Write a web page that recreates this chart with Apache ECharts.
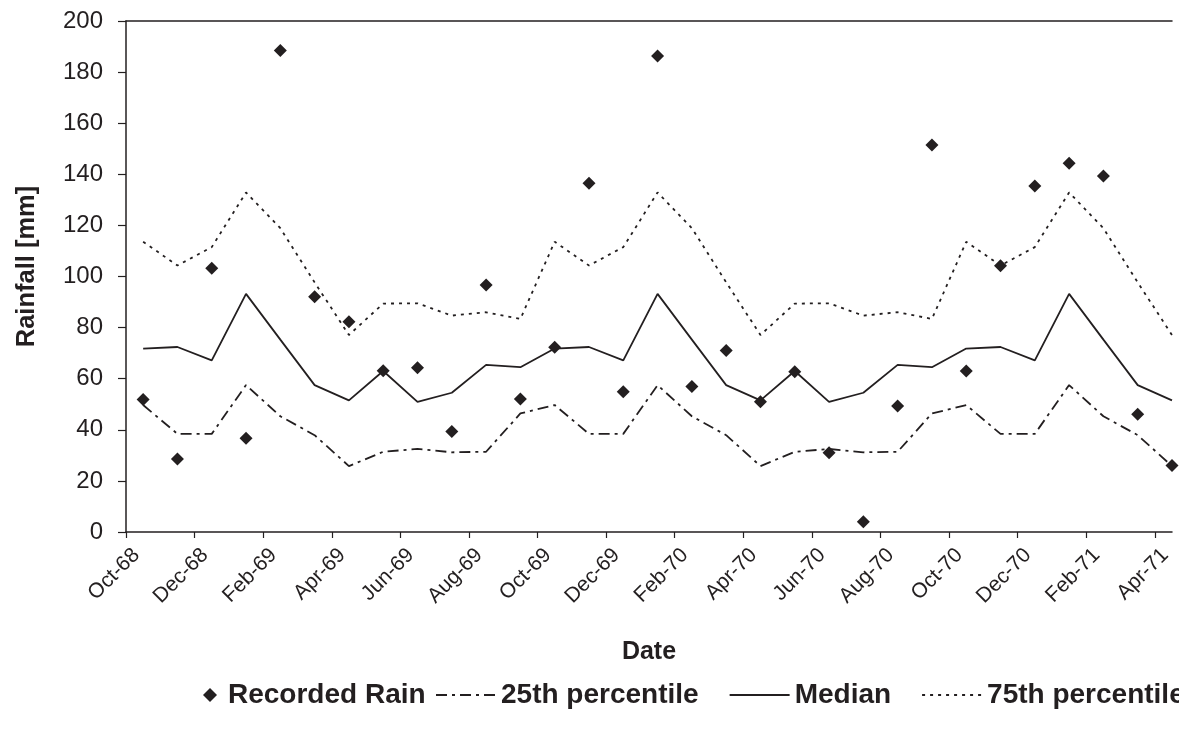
<!DOCTYPE html>
<html>
<head>
<meta charset="utf-8">
<title>Rainfall</title>
<script src="https://cdn.jsdelivr.net/npm/echarts@6/dist/echarts.min.js"></script>
<style>
  html, body { margin: 0; padding: 0; background: #ffffff; }
  #chart { width: 1179px; height: 736px; }
</style>
</head>
<body>
<div id="chart"></div>
<script>
// Monthly categories, Oct-68 .. Apr-71
const months = [
  'Oct-68','Nov-68','Dec-68','Jan-69','Feb-69','Mar-69','Apr-69','May-69','Jun-69','Jul-69','Aug-69','Sep-69',
  'Oct-69','Nov-69','Dec-69','Jan-70','Feb-70','Mar-70','Apr-70','May-70','Jun-70','Jul-70','Aug-70','Sep-70',
  'Oct-70','Nov-70','Dec-70','Jan-71','Feb-71','Mar-71','Apr-71'
];

// Recorded monthly rainfall [mm]
const recordedRain = [
  51.9, 28.6, 103.2, 36.7, 188.5, 92.1, 82.3, 63.1, 64.3, 39.3, 96.7, 52.1,
  72.3, 136.5, 54.9, 186.3, 56.9, 71.0, 51.0, 62.7, 31.0, 4.0, 49.3, 151.5,
  63.0, 104.2, 135.4, 144.3, 139.3, 46.1, 26.0
];

// Long-term monthly statistics [mm]
const p25 = [
  49.7, 38.4, 38.4, 57.5, 45.3, 37.9, 25.8, 31.4, 32.5, 31.2, 31.4, 46.4,
  49.7, 38.4, 38.4, 57.5, 45.3, 37.9, 25.8, 31.4, 32.5, 31.2, 31.4, 46.4,
  49.7, 38.4, 38.4, 57.5, 45.3, 37.9, 25.8
];
const median = [
  71.8, 72.4, 67.2, 93.2, 75.3, 57.5, 51.5, 63.0, 50.9, 54.5, 65.4, 64.5,
  71.8, 72.4, 67.2, 93.2, 75.3, 57.5, 51.5, 63.0, 50.9, 54.5, 65.4, 64.5,
  71.8, 72.4, 67.2, 93.2, 75.3, 57.5, 51.5
];
const p75 = [
  113.6, 104.3, 111.5, 132.9, 118.9, 97.7, 77.1, 89.4, 89.5, 84.7, 86.0, 83.4,
  113.6, 104.3, 111.5, 132.9, 118.9, 97.7, 77.1, 89.4, 89.5, 84.7, 86.0, 83.4,
  113.6, 104.3, 111.5, 132.9, 118.9, 97.7, 77.1
];

// Y-axis tick values
const yTicks = [0, 20, 40, 60, 80, 100, 120, 140, 160, 180, 200];

const INK = '#231f20';
const FONT = "'Liberation Sans', Arial, Helvetica, sans-serif";

// Month index i spans [i, i+1] on the x scale; each value sits mid-month.
const toPoints = arr => arr.map((v, i) => [i + 0.5, v]);
// Ticks every second month, at the start of the month
const tickPositions = months.map((m, i) => i).filter(i => i % 2 === 0);
// Rotated month labels hang slightly right of their tick (fraction of a month)
const LABEL_SHIFT = 0.3;
const labelPositions = tickPositions.map(i => i + LABEL_SHIFT);

const chart = echarts.init(document.getElementById('chart'), null, { renderer: 'canvas' });

const legendText = { fontFamily: FONT, fontSize: 28, fontWeight: 'bold', color: INK };

chart.setOption({
  backgroundColor: '#ffffff',
  animation: false,
  textStyle: { fontFamily: FONT, color: INK },
  grid: {
    left: 126, right: 7, top: 21, bottom: 204,
    containLabel: false,
    outerBoundsMode: 'none'
  },
  legend: [
    {
      data: ['Recorded Rain'],
      left: 198, top: 676,
      itemWidth: 14, itemHeight: 14,
      textStyle: Object.assign({ padding: [0, 0, 0, 6] }, legendText)
    },
    {
      data: ['25th percentile', 'Median', '75th percentile'],
      left: 430, top: 676, width: 1200,
      itemWidth: 60, itemHeight: 14,
      itemGap: 30,
      // only the line sample is shown for these entries
      itemStyle: { opacity: 0 },
      textStyle: legendText
    }
  ],
  xAxis: [
    {
      type: 'value',
      min: 0,
      max: months.length - 0.5,
      interval: 2,
      name: 'Date',
      nameLocation: 'middle',
      nameGap: 108,
      nameTextStyle: { fontFamily: FONT, fontSize: 25, fontWeight: 'bold', color: INK },
      axisLine: { show: true, onZero: false, lineStyle: { color: INK, width: 1.5 } },
      axisTick: { show: true, length: 6, customValues: tickPositions, lineStyle: { color: INK, width: 1.2 } },
      axisLabel: {
        customValues: labelPositions,
        rotate: 45,
        margin: 20,
        fontSize: 21,
        fontFamily: FONT,
        color: INK,
        formatter: v => months[Math.round(v - LABEL_SHIFT)] || ''
      },
      splitLine: { show: false }
    },
    {
      // top frame line of the plot area
      type: 'value',
      position: 'top',
      min: 0,
      max: months.length - 0.5,
      axisLine: { show: true, onZero: false, lineStyle: { color: INK, width: 1.5 } },
      axisTick: { show: false },
      axisLabel: { show: false },
      splitLine: { show: false }
    }
  ],
  yAxis: {
    type: 'value',
    min: yTicks[0],
    max: yTicks[yTicks.length - 1],
    interval: yTicks[1] - yTicks[0],
    name: 'Rainfall [mm]',
    nameLocation: 'middle',
    nameGap: 86,
    nameTextStyle: { fontFamily: FONT, fontSize: 25.5, fontWeight: 'bold', color: INK, padding: [0, 0, 0, 20] },
    axisLine: { show: true, lineStyle: { color: INK, width: 1.5 } },
    axisTick: { show: true, length: 8, lineStyle: { color: INK, width: 1.2 } },
    axisLabel: { margin: 23, fontSize: 24, fontFamily: FONT, color: INK },
    splitLine: { show: false }
  },
  series: [
    {
      name: 'Recorded Rain',
      type: 'scatter',
      data: toPoints(recordedRain),
      symbol: 'diamond',
      symbolSize: 13,
      itemStyle: { color: INK, opacity: 1 },
      z: 5
    },
    {
      name: '25th percentile',
      type: 'line',
      data: toPoints(p25),
      showSymbol: false,
      symbol: 'none',
      itemStyle: { color: INK },
      lineStyle: { color: INK, width: 1.8, type: [11, 5, 3, 5] }
    },
    {
      name: 'Median',
      type: 'line',
      data: toPoints(median),
      showSymbol: false,
      symbol: 'none',
      itemStyle: { color: INK },
      lineStyle: { color: INK, width: 1.8, type: 'solid' }
    },
    {
      name: '75th percentile',
      type: 'line',
      data: toPoints(p75),
      showSymbol: false,
      symbol: 'none',
      itemStyle: { color: INK },
      lineStyle: { color: INK, width: 1.8, type: [3, 5] }
    }
  ]
});
</script>
</body>
</html>
